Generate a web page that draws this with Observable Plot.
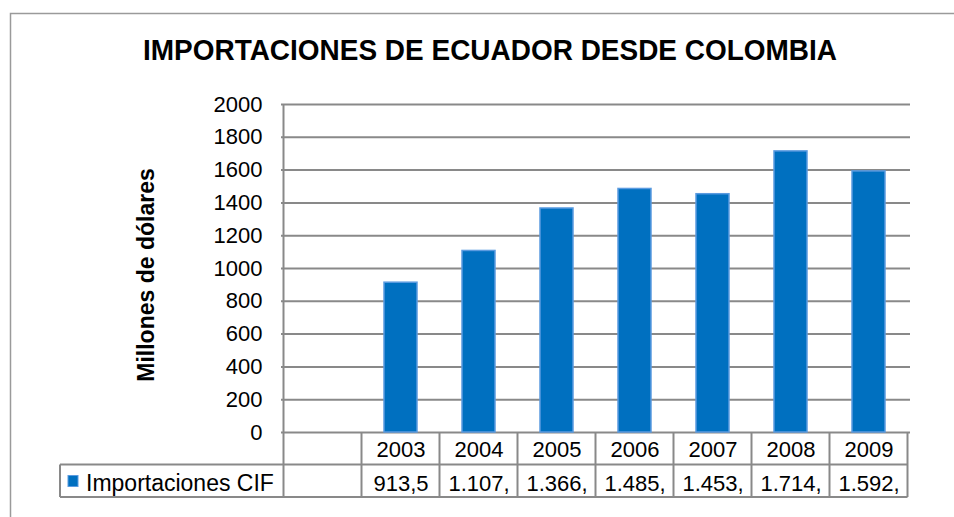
<!DOCTYPE html>
<html><head><meta charset="utf-8">
<script src="https://cdn.jsdelivr.net/npm/d3@7"></script>
<script src="https://cdn.jsdelivr.net/npm/@observablehq/plot@0.6"></script>
<style>html,body{margin:0;padding:0;background:#fff;overflow:hidden}</style>
</head><body><div id="chart"></div>
<script>
const categories = ["", "2003", "2004", "2005", "2006", "2007", "2008", "2009"];
const years = ["2003", "2004", "2005", "2006", "2007", "2008", "2009"];
const values = [913.5, 1107, 1366, 1485, 1453, 1714, 1592];
const valueLabels = ["913,5", "1.107,", "1.366,", "1.485,", "1.453,", "1.714,", "1.592,"];
const yTicks = [0, 200, 400, 600, 800, 1000, 1200, 1400, 1600, 1800, 2000];
const titleText = "IMPORTACIONES DE ECUADOR DESDE COLOMBIA";
const yLabelText = "Millones de dólares";
const seriesName = "Importaciones CIF";

const data = years.map((y, i) => ({year: y, value: values[i], label: valueLabels[i]}));

const font = "'Liberation Sans', Arial, sans-serif";
const grid = "#898989";
const barFill = "#0070C0";
const barEdge = "#5B9BE0";

const chart = Plot.plot({
  width: 954, height: 517,
  marginLeft: 281, marginRight: 44, marginTop: 104, marginBottom: 85,
  style: {fontFamily: font, fontSize: "22px", color: "#000", background: "#fff"},
  x: {domain: categories, paddingInner: 0.58, paddingOuter: 0.29, axis: null},
  y: {domain: [0, 2000], axis: null},
  marks: [
    Plot.ruleY(yTicks, {stroke: grid, strokeWidth: 2}),
    Plot.barY(data, {x: "year", y: "value", fill: barFill, stroke: barEdge, strokeWidth: 1.5}),
    Plot.axisY(yTicks, {tickSize: 0, tickPadding: 19, tickFormat: d => String(d), fontSize: 22, fill: "#000", label: null}),
    Plot.text(data, {x: "year", text: "year", frameAnchor: "bottom", lineAnchor: "middle", dy: 17, fontSize: 22, fill: "#000"}),
    Plot.text(data, {x: "year", text: "label", frameAnchor: "bottom", lineAnchor: "middle", dy: 51, fontSize: 22, fill: "#000"})
  ]
});
document.getElementById("chart").appendChild(chart);

const svg = d3.select(chart);
const xs = chart.scale("x");
const ys = chart.scale("y");
const step = xs.step, bw = xs.bandwidth;
const colLeft = c => xs.apply(c) - (step - bw) / 2;
const y0 = ys.apply(0), yTop = ys.apply(2000);
const rowH = 32.5;
const tableLeft = 60;
const tableRight = colLeft(categories[categories.length - 1]) + step;

const g = svg.append("g").attr("stroke", grid).attr("stroke-width", 2).attr("fill", "none");
// plot left edge continuing into the table
g.append("line").attr("x1", colLeft("")).attr("x2", colLeft("")).attr("y1", yTop).attr("y2", y0 + 2 * rowH);
// column separators
categories.forEach(c => {
  const x = colLeft(c) + step;
  g.append("line").attr("x1", x).attr("x2", x).attr("y1", y0).attr("y2", y0 + 2 * rowH);
});
// legend cell left edge
g.append("line").attr("x1", tableLeft).attr("x2", tableLeft).attr("y1", y0 + rowH).attr("y2", y0 + 2 * rowH);
// horizontal table lines
[y0 + rowH, y0 + 2 * rowH].forEach(y => {
  g.append("line").attr("x1", tableLeft).attr("x2", tableRight).attr("y1", y).attr("y2", y);
});

// legend key
svg.append("rect").attr("x", 68).attr("y", y0 + rowH + 11).attr("width", 10).attr("height", 11)
  .attr("fill", barFill).attr("stroke", barEdge).attr("stroke-width", 1);
svg.append("text").attr("x", 86).attr("y", y0 + rowH + 18).attr("dy", "0.35em").attr("text-anchor", "start")
  .attr("font-size", 23).attr("font-family", font).attr("fill", "#000").text(seriesName);

// title
svg.append("text").attr("x", 490).attr("y", 60).attr("text-anchor", "middle")
  .attr("font-size", 29).attr("font-weight", "bold").attr("font-family", font).attr("fill", "#000")
  .attr("textLength", 694).attr("lengthAdjust", "spacingAndGlyphs").text(titleText);

// y label
svg.append("text").attr("transform", "translate(154,275) rotate(-90)").attr("text-anchor", "middle")
  .attr("font-size", 23).attr("font-weight", "bold").attr("font-family", font).attr("fill", "#000")
  .text(yLabelText);

// outer chart frame (left and top edges visible)
svg.append("path").attr("d", "M10.5,517 L10.5,13.5 L954,13.5").attr("fill", "none")
  .attr("stroke", "#9a9a9a").attr("stroke-width", 1.5);
</script>
</body></html>
